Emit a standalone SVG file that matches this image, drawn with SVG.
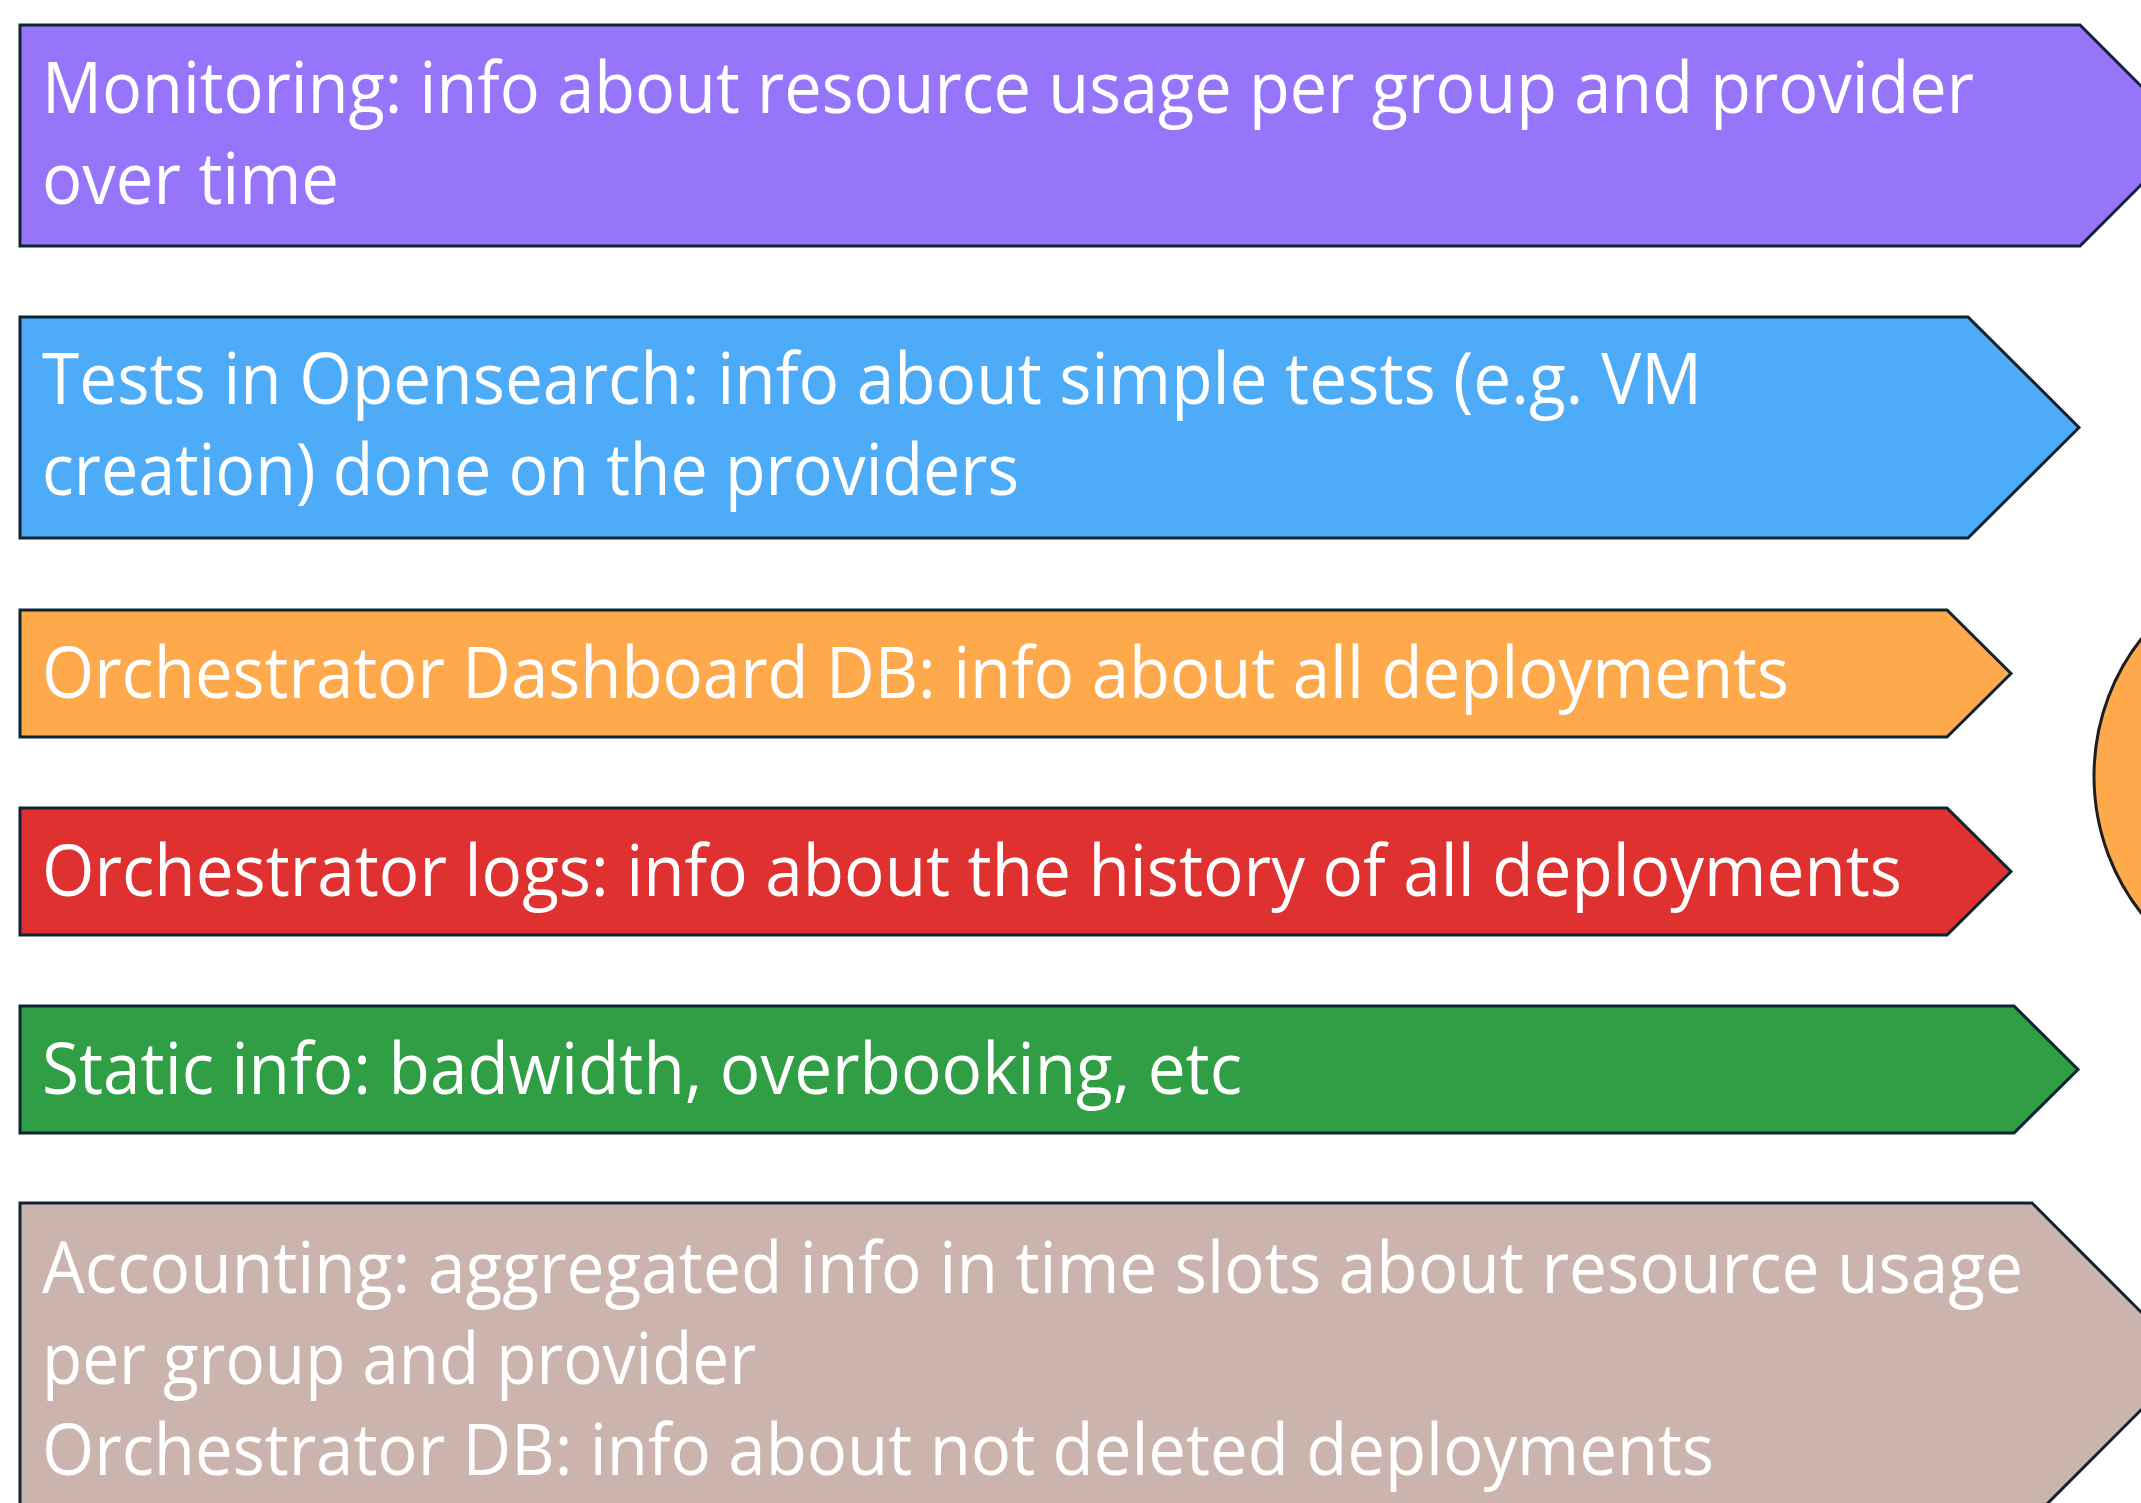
<svg xmlns="http://www.w3.org/2000/svg" width="2141" height="1503" viewBox="0 0 2141 1503">
<style>
.s{stroke:#0f2433;stroke-width:3;stroke-linejoin:miter}
.t{font-family:"Open Sans","Noto Sans","Liberation Sans",sans-serif;font-size:72px;fill:#ffffff}
</style>
<rect width="2141" height="1503" fill="#ffffff"/>
<g id="circle">
<ellipse cx="2300" cy="776" rx="206" ry="215" fill="#ffa94d" stroke="#1e1e1e" stroke-width="3"/>
</g>
<g id="monitoring">
<polygon class="s" fill="#9775fa" points="20,25 2080,25 2190.5,135.5 2080,246 20,246"/>
<text class="t" x="42" y="113" textLength="1932" lengthAdjust="spacingAndGlyphs">Monitoring: info about resource usage per group and provider</text>
<text class="t" x="42" y="204" textLength="297" lengthAdjust="spacingAndGlyphs">over time</text>
</g>
<g id="tests">
<polygon class="s" fill="#4dabf7" points="20,317 1968,317 2079,427.5 1968,538 20,538"/>
<text class="t" x="42" y="404" textLength="1660" lengthAdjust="spacingAndGlyphs">Tests in Opensearch: info about simple tests (e.g. VM</text>
<text class="t" x="42" y="495" textLength="977" lengthAdjust="spacingAndGlyphs">creation) done on the providers</text>
</g>
<g id="dashboard">
<polygon class="s" fill="#ffa94d" points="20,610 1947,610 2011,673.5 1947,737 20,737"/>
<text class="t" x="42" y="698" textLength="1747" lengthAdjust="spacingAndGlyphs">Orchestrator Dashboard DB: info about all deployments</text>
</g>
<g id="logs">
<polygon class="s" fill="#e03131" points="20,808 1947,808 2011,871.5 1947,935 20,935"/>
<text class="t" x="42" y="896" textLength="1860" lengthAdjust="spacingAndGlyphs">Orchestrator logs: info about the history of all deployments</text>
</g>
<g id="static">
<polygon class="s" fill="#2f9e44" points="20,1006 2014,1006 2078,1069.5 2014,1133 20,1133"/>
<text class="t" x="42" y="1094" textLength="1200" lengthAdjust="spacingAndGlyphs">Static info: badwidth, overbooking, etc</text>
</g>
<g id="accounting">
<polygon class="s" fill="#cab4ad" points="20,1203 2032,1203 2190,1361 2032,1519 20,1519"/>
<text class="t" x="42" y="1293" textLength="1981" lengthAdjust="spacingAndGlyphs">Accounting: aggregated info in time slots about resource usage</text>
<text class="t" x="42" y="1384" textLength="714" lengthAdjust="spacingAndGlyphs">per group and provider</text>
<text class="t" x="42" y="1475" textLength="1672" lengthAdjust="spacingAndGlyphs">Orchestrator DB: info about not deleted deployments</text>
</g>
<g id="connectors"></g>
</svg>
